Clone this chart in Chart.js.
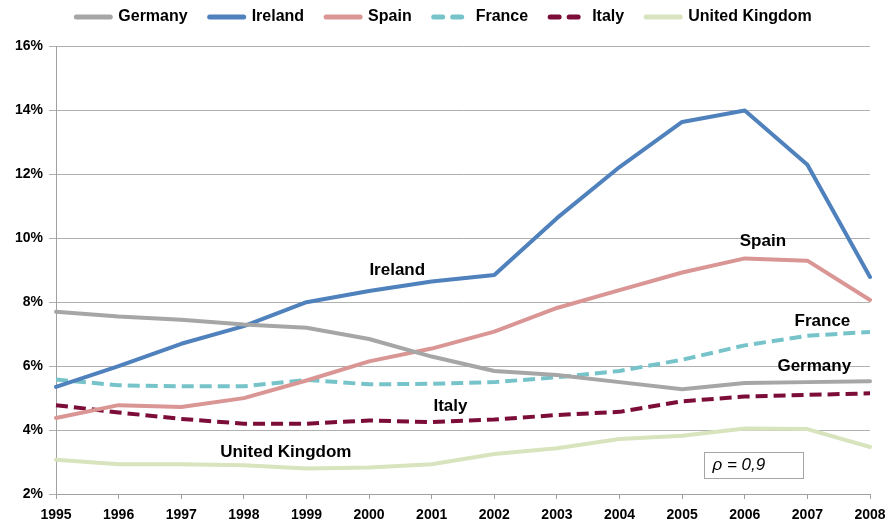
<!DOCTYPE html>
<html>
<head>
<meta charset="utf-8">
<script src="https://cdn.jsdelivr.net/npm/chart.js@4/dist/chart.umd.min.js"></script>
<style>
html,body{margin:0;padding:0;background:#fff;overflow:hidden}
#wrap{position:relative;width:888px;height:520px}
</style>
</head>
<body>
<div id="wrap"><canvas id="c"></canvas></div>
<script>
const years = ['1995','1996','1997','1998','1999','2000','2001','2002','2003','2004','2005','2006','2007','2008'];
const germany = [7.70, 7.55, 7.45, 7.30, 7.20, 6.85, 6.30, 5.85, 5.72, 5.50, 5.28, 5.47, 5.50, 5.53];
const ireland = [5.35, 6.00, 6.70, 7.25, 8.00, 8.35, 8.65, 8.85, 10.63, 12.23, 13.64, 14.00, 12.30, 8.79];
const spain   = [4.38, 4.78, 4.72, 5.00, 5.55, 6.15, 6.55, 7.08, 7.82, 8.38, 8.93, 9.37, 9.30, 8.07];
const france  = [5.58, 5.40, 5.37, 5.37, 5.57, 5.43, 5.45, 5.50, 5.65, 5.85, 6.20, 6.65, 6.95, 7.07];
const italy   = [4.78, 4.55, 4.35, 4.20, 4.20, 4.30, 4.25, 4.33, 4.47, 4.57, 4.90, 5.05, 5.10, 5.15];
const uk      = [3.07, 2.93, 2.93, 2.90, 2.80, 2.83, 2.93, 3.25, 3.43, 3.72, 3.82, 4.05, 4.03, 3.47];
const yTicks  = [2, 4, 6, 8, 10, 12, 14, 16];
const rhoText = 'ρ = 0,9';

const FONT = "'Liberation Sans', Arial, Helvetica, sans-serif";
Chart.defaults.font.family = FONT;
Chart.defaults.color = '#000';

// annotation placement (category index, value)
const notes = [
  {text:'Ireland',        xi:5.45,  v:9.00},
  {text:'Spain',          xi:11.29, v:9.91},
  {text:'France',         xi:12.24, v:7.41},
  {text:'Germany',        xi:12.11, v:6.00},
  {text:'Italy',          xi:6.30,  v:4.75},
  {text:'United Kingdom', xi:3.67,  v:3.31}
];
const rhoBox = {x0:10.35, x1:11.93, v0:3.31, v1:2.50};

function xAt(xs, xi){
  const p0 = xs.getPixelForTick(0), p1 = xs.getPixelForTick(1);
  return p0 + (p1 - p0) * xi;
}

const legendSpace = {
  id:'legendSpace',
  beforeInit(chart){
    const lg = chart.legend;
    if(!lg) return;
    const f = lg.fit;
    lg.fit = function(){ f.call(this); this.height += 11.5; };
  }
};

const annotate = {
  id:'annotate',
  afterDatasetsDraw(chart){
    const {ctx, scales:{x, y}} = chart;
    ctx.save();
    ctx.fillStyle = '#000';
    ctx.textAlign = 'center';
    ctx.textBaseline = 'middle';
    ctx.font = 'bold 17px ' + FONT;
    notes.forEach(n => ctx.fillText(n.text, xAt(x, n.xi), y.getPixelForValue(n.v)));
    const bx0 = Math.round(xAt(x, rhoBox.x0)) + 0.5, bx1 = Math.round(xAt(x, rhoBox.x1)) + 0.5;
    const by0 = Math.round(y.getPixelForValue(rhoBox.v0)) + 0.5, by1 = Math.round(y.getPixelForValue(rhoBox.v1)) + 0.5;
    ctx.fillStyle = '#fff';
    ctx.fillRect(bx0, by0, bx1 - bx0, by1 - by0);
    ctx.strokeStyle = '#a6a6a6';
    ctx.lineWidth = 1;
    ctx.strokeRect(bx0, by0, bx1 - bx0, by1 - by0);
    ctx.fillStyle = '#000';
    ctx.textAlign = 'left';
    ctx.font = 'italic 17px ' + FONT;
    ctx.fillText(rhoText, bx0 + 8, (by0 + by1) / 2);
    ctx.restore();
  }
};

function ds(label, data, color, dash){
  return {
    label, data,
    borderColor: color, backgroundColor: color,
    borderWidth: 4,
    borderDash: dash || [],
    borderCapStyle: dash ? 'butt' : 'round',
    borderJoinStyle: 'round',
    pointRadius: 0, pointHoverRadius: 0,
    tension: 0, fill: false
  };
}

new Chart(document.getElementById('c'), {
  type: 'line',
  data: {
    labels: years,
    datasets: [
      ds('Germany', germany, '#a6a6a6'),
      ds('Ireland', ireland, '#4f81bd'),
      ds('Spain', spain, '#d99694'),
      ds('France', france, '#76c4c9', [12, 6]),
      ds('Italy', italy, '#7b0d38', [12, 6]),
      ds('United Kingdom', uk, '#d7e4bd')
    ]
  },
  options: {
    responsive: true,
    maintainAspectRatio: false,
    animation: false,
    events: [],
    layout: { padding: { top: -13, left: 0, right: 0, bottom: 0 } },
    plugins: {
      legend: {
        position: 'top',
        labels: {
          usePointStyle: true,
          pointStyle: 'line',
          pointStyleWidth: 34,
          padding: 22,
          color: '#000',
          font: { size: 16, weight: 'bold', family: FONT },
          generateLabels(chart){
            const items = Chart.defaults.plugins.legend.labels.generateLabels(chart);
            items.forEach(it => {
              const d = chart.data.datasets[it.datasetIndex];
              const dashed = d.borderDash && d.borderDash.length;
              it.lineDash = dashed ? [9, 10] : [];
              it.lineDashOffset = 0;
              it.lineWidth = 5;
              it.lineCap = 'round';
              it.strokeStyle = d.borderColor;
              it.fillStyle = d.borderColor;
              it.pointStyle = 'line';
            });
            return items;
          }
        }
      },
      tooltip: { enabled: false }
    },
    scales: {
      x: {
        offset: false,
        grid: { drawOnChartArea: false, drawTicks: true, tickLength: 5, color: '#a0a0a0' },
        border: { color: '#a0a0a0', width: 1 },
        ticks: { autoSkip: false, maxRotation: 0, padding: 8, color: '#000', font: { size: 14, weight: 'bold', family: FONT } },
        afterFit(s){ s.height = 26; s.paddingRight = 18; }
      },
      y: {
        min: 2, max: 16,
        afterBuildTicks(s){ s.ticks = yTicks.map(v => ({value: v})); },
        grid: { color: '#b0b0b0', tickLength: 7, lineWidth: 1 },
        border: { color: '#a0a0a0', width: 1 },
        ticks: { padding: 6, color: '#000', callback: v => v + '%', font: { size: 14, weight: 'bold', family: FONT } },
        afterFit(s){ s.width = 56; }
      }
    }
  },
  plugins: [legendSpace, annotate]
});
</script>
</body>
</html>
